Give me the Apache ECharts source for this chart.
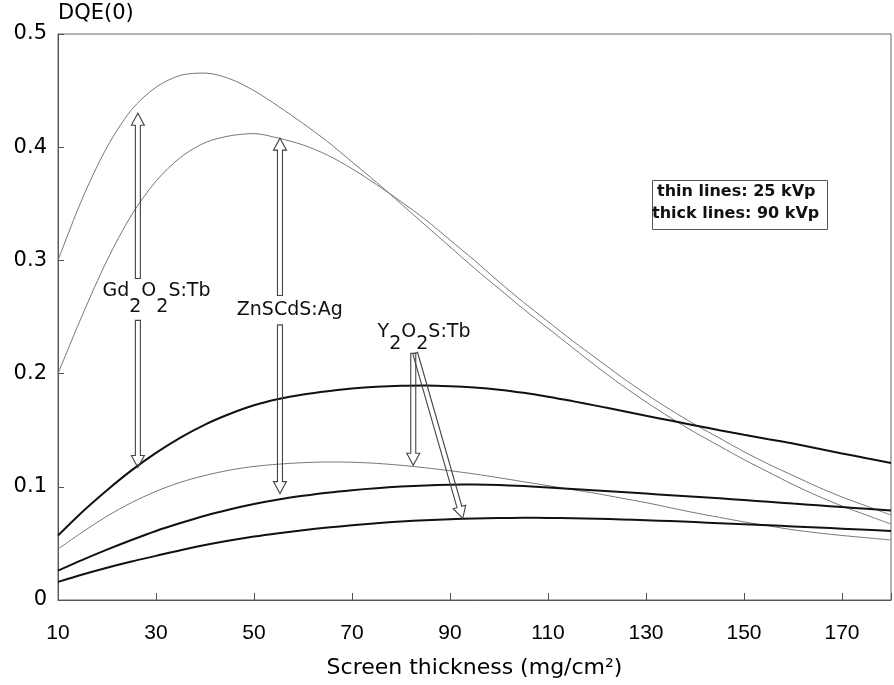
<!DOCTYPE html>
<html>
<head>
<meta charset="utf-8">
<script src="https://cdn.jsdelivr.net/npm/echarts@6/dist/echarts.min.js"></script>
<style>
  html, body { margin: 0; padding: 0; background: #fff; }
  #chart { width: 894px; height: 685px; }
</style>
</head>
<body>
<div id="chart"></div>
<script>
// screen thickness (mg/cm2)
var thickness = [10, 15, 20, 25, 30, 35, 40, 45, 50, 55, 60, 65, 70, 75, 80, 85, 90, 95, 100,
                 105, 110, 115, 120, 125, 130, 135, 140, 145, 150, 155, 160, 165, 170, 175, 180];

// thin lines: 25 kVp
var gdThin = [0.300, 0.355, 0.400, 0.433, 0.453, 0.4635, 0.4655, 0.4605, 0.450, 0.436, 0.421, 0.405, 0.387, 0.369, 0.350, 0.331, 0.312, 0.293, 0.275,
              0.257, 0.240, 0.223, 0.206, 0.190, 0.175, 0.161, 0.148, 0.136, 0.124, 0.113, 0.102, 0.092, 0.083, 0.075, 0.067];
var znThin = [0.200, 0.252, 0.300, 0.340, 0.370, 0.391, 0.404, 0.410, 0.412, 0.408, 0.402, 0.393, 0.381, 0.367, 0.352, 0.336, 0.318, 0.300, 0.281,
              0.263, 0.246, 0.229, 0.213, 0.197, 0.182, 0.168, 0.155, 0.143, 0.131, 0.120, 0.110, 0.100, 0.091, 0.083, 0.075];
var yThin = [0.045, 0.060, 0.074, 0.086, 0.096, 0.104, 0.110, 0.1147, 0.118, 0.120, 0.1213, 0.1219, 0.1217, 0.1207, 0.119, 0.1168, 0.1142, 0.1113, 0.108,
             0.1045, 0.101, 0.0975, 0.094, 0.090, 0.086, 0.0815, 0.077, 0.073, 0.069, 0.0655, 0.062, 0.0593, 0.057, 0.055, 0.053];

// thick lines: 90 kVp
var gdThick = [0.057, 0.078, 0.097, 0.1145, 0.130, 0.1435, 0.155, 0.1643, 0.172, 0.1775, 0.1815, 0.1845, 0.1868, 0.1884, 0.1893, 0.1895, 0.1889, 0.1877, 0.1858,
               0.1830, 0.1796, 0.1757, 0.1715, 0.1672, 0.1628, 0.1585, 0.1542, 0.150, 0.146, 0.1421, 0.1382, 0.1339, 0.1295, 0.1252, 0.121];
var znThick = [0.026, 0.0355, 0.0445, 0.053, 0.061, 0.068, 0.0745, 0.080, 0.0848, 0.0888, 0.092, 0.0948, 0.097, 0.0988, 0.1002, 0.1012, 0.1018, 0.102, 0.1016,
               0.1006, 0.0993, 0.098, 0.0967, 0.0954, 0.094, 0.0926, 0.0912, 0.0898, 0.0883, 0.0868, 0.0852, 0.0837, 0.0821, 0.0806, 0.079];
var yThick = [0.016, 0.0225, 0.0285, 0.034, 0.039, 0.044, 0.0485, 0.0525, 0.056, 0.059, 0.0617, 0.064, 0.066, 0.0678, 0.0693, 0.0705, 0.0714, 0.072, 0.0724,
              0.0726, 0.0725, 0.0722, 0.0718, 0.0712, 0.0705, 0.0697, 0.0688, 0.0679, 0.067, 0.066, 0.065, 0.064, 0.063, 0.062, 0.061];

// annotation arrows [x from, y from, x to, y to]
var arrows = [
  [26.3, 0.284, 26.3, 0.430],
  [26.3, 0.247, 26.3, 0.117],
  [55.3, 0.269, 55.3, 0.408],
  [55.3, 0.243, 55.3, 0.094],
  [82.5, 0.218, 82.5, 0.119],
  [82.9, 0.218, 92.6, 0.072]
];

// phosphor labels: anchor [x, y] and text pieces [text, subscript?]
var labelAnchors = [[30.1, 0.273], [57.3, 0.256], [84.7, 0.237]];
var labelPieces = [
  [['Gd', 0], ['2', 1], ['O', 0], ['2', 1], ['S:Tb', 0]],
  [['ZnSCdS:Ag', 0]],
  [['Y', 0], ['2', 1], ['O', 0], ['2', 1], ['S:Tb', 0]]
];
var subDrop = [16, 0, 12];

var xTicks = [10, 30, 50, 70, 90, 110, 130, 150, 170];
var yTicks = [0, 0.1, 0.2, 0.3, 0.4, 0.5];

function pairs(vals) {
  return thickness.map(function (x, i) { return [x, vals[i]]; });
}

var labelFont = '19px DejaVu Sans';
var measureCtx = document.createElement('canvas').getContext('2d');
measureCtx.font = labelFont;

var chart = echarts.init(document.getElementById('chart'));

function curve(vals, thick) {
  return {
    type: 'line',
    data: pairs(vals),
    smooth: 0.3,
    showSymbol: false,
    silent: true,
    lineStyle: thick ? { color: '#111', width: 2 } : { color: '#777', width: 1 },
    z: thick ? 3 : 2
  };
}

var option = {
  animation: false,
  backgroundColor: '#fff',
  textStyle: { fontFamily: 'DejaVu Sans' },
  grid: { left: 58, right: 0, top: 34, bottom: 85, show: true, borderColor: '#666', borderWidth: 1 },
  xAxis: {
    type: 'value',
    min: 10, max: 180, interval: 20,
    name: 'Screen thickness (mg/cm²)',
    nameLocation: 'middle',
    nameGap: 57,
    nameTextStyle: { color: '#000', fontSize: 22, fontFamily: 'DejaVu Sans' },
    axisLine: { lineStyle: { color: '#555', width: 1 } },
    axisTick: { inside: true, length: 7, lineStyle: { color: '#555' } },
    splitLine: { show: false },
    axisLabel: {
      color: '#000', fontSize: 21, margin: 23, fontFamily: 'Liberation Sans Narrow, Liberation Sans',
      formatter: function (v) { return xTicks.indexOf(v) >= 0 ? String(v) : ''; }
    }
  },
  yAxis: {
    type: 'value',
    min: 0, max: 0.5, interval: 0.1,
    name: 'DQE(0)',
    nameLocation: 'end',
    nameGap: 10,
    nameTextStyle: { color: '#000', fontSize: 21, align: 'left', fontFamily: 'DejaVu Sans' },
    axisLine: { show: true, lineStyle: { color: '#555', width: 1 } },
    axisTick: { show: true, inside: true, length: 6, lineStyle: { color: '#555' } },
    splitLine: { show: false },
    axisLabel: {
      color: '#000', fontSize: 21, margin: 11,
      formatter: function (v) {
        var t = yTicks.filter(function (k) { return Math.abs(k - v) < 1e-9; });
        if (!t.length) return '';
        return v === 0 ? '0' : v.toFixed(1);
      }
    }
  },
  graphic: [
    {
      type: 'rect', left: 652, top: 180, z: 10,
      shape: { width: 175, height: 49 },
      style: { fill: '#fff', stroke: '#555', lineWidth: 1 }
    },
    {
      type: 'text', left: 657, top: 184, z: 11,
      style: { text: 'thin lines: 25 kVp', fill: '#111', font: 'bold 16px DejaVu Sans' }
    },
    {
      type: 'text', left: 652, top: 206, z: 11,
      style: { text: 'thick lines: 90 kVp', fill: '#111', font: 'bold 16px DejaVu Sans' }
    }
  ],
  series: [
    curve(gdThin, false),
    curve(znThin, false),
    curve(yThin, false),
    curve(gdThick, true),
    curve(znThick, true),
    curve(yThick, true),
    {
      type: 'custom',
      silent: true,
      z: 5,
      data: arrows,
      encode: { x: [0, 2], y: [1, 3] },
      renderItem: function (params, api) {
        var p1 = api.coord([api.value(0), api.value(1)]);
        var p2 = api.coord([api.value(2), api.value(3)]);
        var dx = p2[0] - p1[0], dy = p2[1] - p1[1];
        var len = Math.sqrt(dx * dx + dy * dy);
        var ux = dx / len, uy = dy / len, px = -uy, py = ux;
        var hl = 12, sw = 2.5, hw = 6.5;
        var bx = p2[0] - ux * hl, by = p2[1] - uy * hl;
        var pts = [
          [p1[0] + px * sw, p1[1] + py * sw],
          [bx + px * sw, by + py * sw],
          [bx + px * hw, by + py * hw],
          p2,
          [bx - px * hw, by - py * hw],
          [bx - px * sw, by - py * sw],
          [p1[0] - px * sw, p1[1] - py * sw]
        ];
        return {
          type: 'polygon',
          shape: { points: pts },
          style: { fill: 'rgba(255,255,255,0)', stroke: '#444', lineWidth: 1.1 }
        };
      }
    },
    {
      type: 'custom',
      silent: true,
      z: 6,
      data: labelAnchors,
      renderItem: function (params, api) {
        var p = api.coord([api.value(0), api.value(1)]);
        var pieces = labelPieces[params.dataIndex];
        var drop = subDrop[params.dataIndex];
        var total = 0;
        var widths = pieces.map(function (pc) {
          var w = measureCtx.measureText(pc[0]).width;
          total += w;
          return w;
        });
        var x = p[0] - total / 2;
        var children = pieces.map(function (pc, i) {
          var el = {
            type: 'text',
            x: x, y: p[1] + (pc[1] ? drop : 0),
            style: { text: pc[0], font: labelFont, fill: '#111', align: 'left', verticalAlign: 'middle' }
          };
          x += widths[i];
          return el;
        });
        return { type: 'group', children: children };
      }
    }
  ]
};

chart.setOption(option);
</script>
</body>
</html>
